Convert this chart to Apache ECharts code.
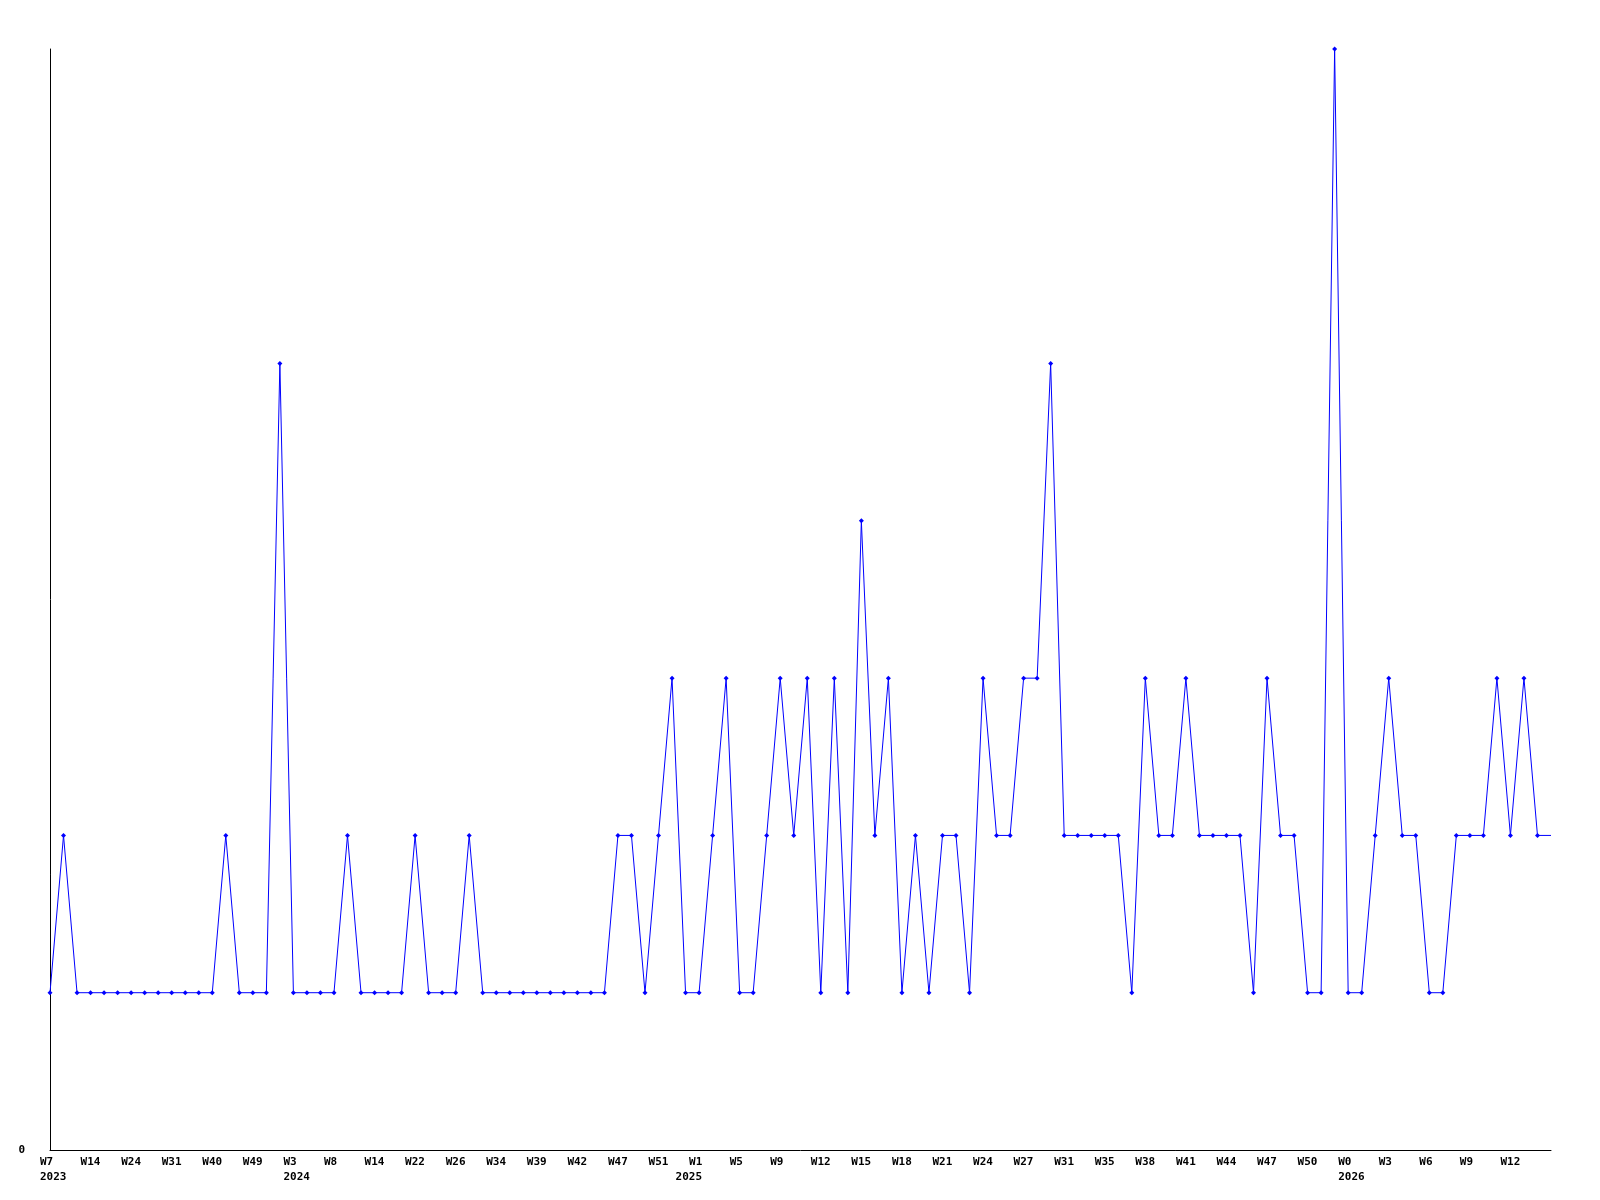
<!DOCTYPE html>
<html>
<head>
<meta charset="utf-8">
<script src="https://cdn.jsdelivr.net/npm/echarts@6/dist/echarts.min.js"></script>
<style>
  html, body { margin: 0; padding: 0; background: #ffffff; }
  #chart { width: 1600px; height: 1200px; }
</style>
</head>
<body>
<div id="chart"></div>
<script>
// Week label for every point
const weeks = [
  'W7','W9','W11','W14','W17','W20','W24','W26','W28','W31','W34','W37','W40','W43','W46','W49','W51','W52',
  'W3','W5','W6','W8','W10','W12','W14','W16','W19','W22','W23','W25','W26','W28','W31','W34','W36','W37',
  'W39','W40','W41','W42','W44','W45','W47','W48','W49','W51','W52','W0',
  'W1','W2','W3','W5','W6','W7','W9','W10','W11','W12','W13','W14','W15','W16','W17','W18','W19','W20',
  'W21','W22','W23','W24','W25','W26','W27','W28','W30','W31','W32','W34','W35','W36','W37','W38','W39','W40',
  'W41','W42','W43','W44','W45','W46','W47','W48','W49','W50','W51','W52',
  'W0','W1','W2','W3','W4','W5','W6','W7','W8','W9','W10','W11','W12','W13','W14','W15'
];
// Year of every point
const years = [
  2023,2023,2023,2023,2023,2023,2023,2023,2023,2023,2023,2023,2023,2023,2023,2023,2023,2023,
  2024,2024,2024,2024,2024,2024,2024,2024,2024,2024,2024,2024,2024,2024,2024,2024,2024,2024,
  2024,2024,2024,2024,2024,2024,2024,2024,2024,2024,2024,2025,
  2025,2025,2025,2025,2025,2025,2025,2025,2025,2025,2025,2025,2025,2025,2025,2025,2025,2025,
  2025,2025,2025,2025,2025,2025,2025,2025,2025,2025,2025,2025,2025,2025,2025,2025,2025,2025,
  2025,2025,2025,2025,2025,2025,2025,2025,2025,2025,2025,2025,
  2026,2026,2026,2026,2026,2026,2026,2026,2026,2026,2026,2026,2026,2026,2026,2026
];
// Values
const values = [
  1,2,1,1,1,1,1,1,1,1,1,1,1,2,1,1,1,5,
  1,1,1,1,2,1,1,1,1,2,1,1,1,2,1,1,1,1,
  1,1,1,1,1,1,2,2,1,2,3,1,
  1,2,3,1,1,2,3,2,3,1,3,1,4,2,3,1,2,1,
  2,2,1,3,2,2,3,3,5,2,2,2,2,2,1,3,2,2,
  3,2,2,2,2,1,3,2,2,1,1,7,
  1,1,2,3,2,2,1,1,2,2,2,3,2,3,2,2
];
const yTicks = [0];

const FONT = 'DejaVu Sans Mono';

function isYearStart(i) { return i === 0 || years[i] !== years[i - 1]; }
function isWeekTick(i) { return i % 3 === 0 && i !== values.length - 1; }

const chart = echarts.init(document.getElementById('chart'), null, { renderer: 'canvas' });

const seriesData = values.map((v, i) => i === values.length - 1 ? { value: v, symbol: 'none' } : v);

chart.setOption({
  animation: false,
  backgroundColor: '#ffffff',
  grid: { left: 50, right: 49, top: 49, bottom: 50, containLabel: false },
  xAxis: {
    type: 'category',
    data: weeks,
    boundaryGap: false,
    axisLine: { show: true, lineStyle: { color: '#000000', width: 1 } },
    axisTick: { show: false },
    splitLine: { show: false },
    axisLabel: {
      interval: function (i) { return isWeekTick(i) || isYearStart(i); },
      hideOverlap: false,
      align: 'center',
      width: 20,
      overflow: 'none',
      margin: 5,
      formatter: function (val, idx) {
        let s = '{w|' + (isWeekTick(idx) ? val : ' ') + '}';
        if (isYearStart(idx)) {
          s += '\n{w|' + years[idx] + '}';
        }
        return s;
      },
      rich: {
        w: {
          align: 'left',
          fontFamily: FONT,
          fontSize: 11,
          fontWeight: 'bold',
          color: '#000000',
          lineHeight: 15
        }
      }
    }
  },
  yAxis: {
    type: 'value',
    min: 0,
    max: 7,
    interval: 7,
    axisLine: { show: true, lineStyle: { color: '#000000', width: 1 } },
    axisTick: { show: false },
    splitLine: { show: false },
    axisLabel: {
      margin: 25,
      fontFamily: FONT,
      fontSize: 11,
      fontWeight: 'bold',
      color: '#000000',
      formatter: function (v) { return yTicks.indexOf(v) >= 0 ? String(v) : ''; }
    }
  },
  series: [{
    type: 'line',
    data: seriesData,
    showSymbol: true,
    showAllSymbol: true,
    symbol: 'diamond',
    symbolSize: 5,
    lineStyle: { color: '#0000ff', width: 1 },
    itemStyle: { color: '#0000ff' },
    emphasis: { disabled: true }
  }]
});
</script>
</body>
</html>
